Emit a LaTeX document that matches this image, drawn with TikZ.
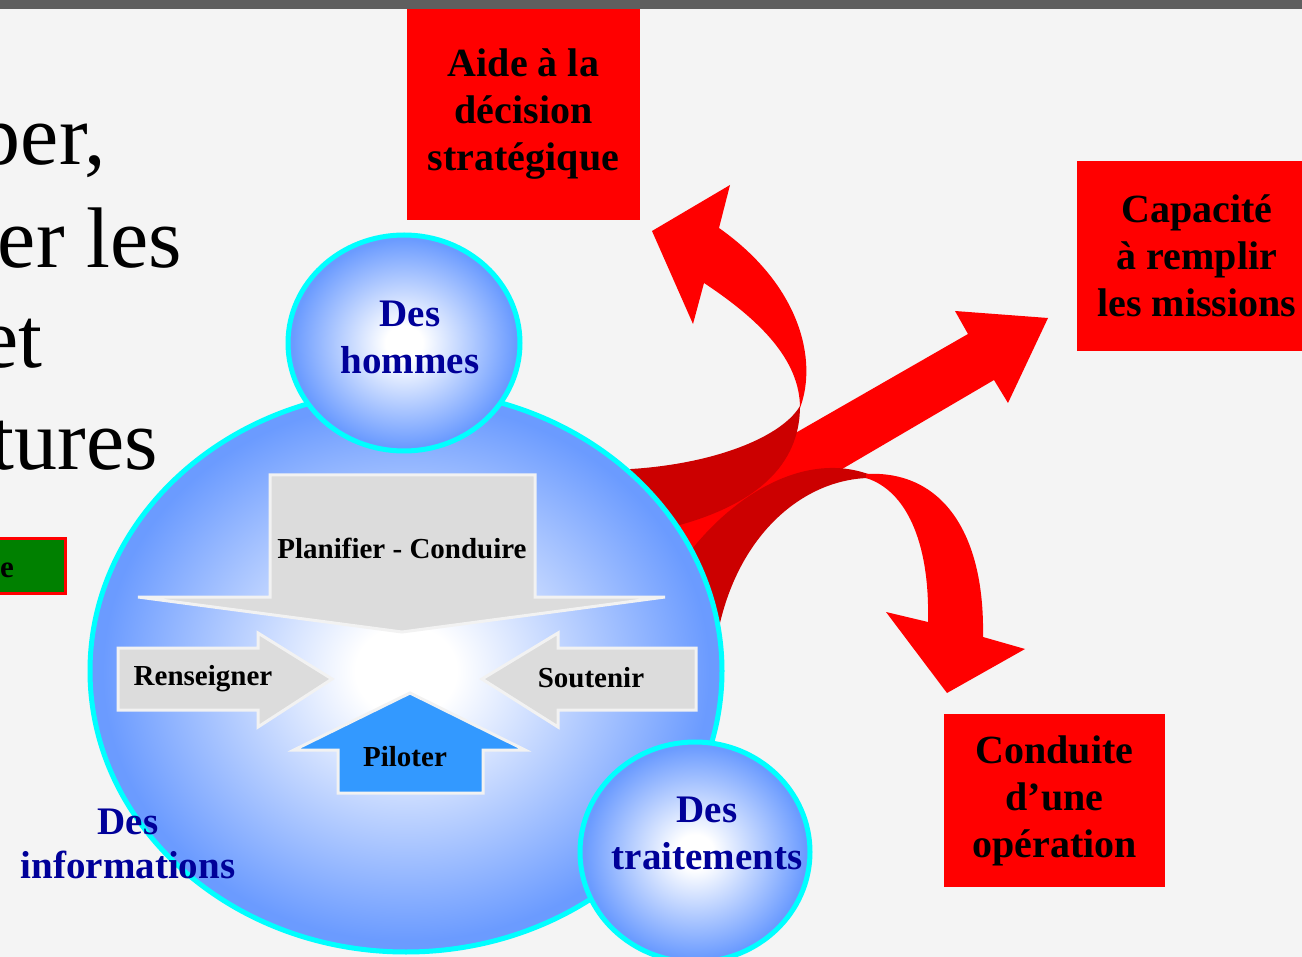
\documentclass[tikz,border=0pt]{standalone}
\usepackage{fontspec}
\setmainfont{Liberation Serif}
\usepackage{xcolor}
\usetikzlibrary{shapes.geometric,positioning}

\definecolor{fond}{HTML}{F4F4F4}
\definecolor{barre}{HTML}{5F5F5F}
\definecolor{contour}{HTML}{00FFFF}
\definecolor{bleuglobe}{HTML}{6B9BFF}
\definecolor{bleutexte}{HTML}{000099}
\definecolor{rouge}{HTML}{FF0000}
\definecolor{rougesombre}{HTML}{CC0000}
\definecolor{gris}{HTML}{DCDCDC}
\definecolor{bordgris}{HTML}{F2F2F2}
\definecolor{pilote}{HTML}{3399FF}
\definecolor{vert}{HTML}{008000}

\pgfdeclareradialshading{globe}{\pgfpoint{0bp}{0bp}}{color(0bp)=(white); color(4bp)=(white); color(24bp)=(bleuglobe); color(50bp)=(bleuglobe)}

\begin{document}
\begin{tikzpicture}[
	x=1pt, y=-1pt,
	bulle/.style = {ellipse, draw=contour, line width=5pt, shading=globe, inner sep=0pt},
	legende/.style = {text=bleutexte, align=center, inner sep=0pt,
	font=\fontsize{39}{47}\selectfont\bfseries},
	cadre/.style = {fill=rouge, align=center, inner sep=0pt,
	font=\fontsize{40}{47}\selectfont\bfseries},
	fleche/.style = {fill=gris, draw=bordgris, line width=3pt},
	verbe/.style = {inner sep=0pt, font=\fontsize{29}{34}\selectfont\bfseries},
	grand/.style = {inner sep=0pt, anchor=base east, font=\fontsize{86}{100}\selectfont}
]
\useasboundingbox (0,0) rectangle (1302,957);
\clip (0,0) rectangle (1302,957);
\fill[fond] (0,0) rectangle (1302,957);

\node[grand] (ligne1) at (106,165) {per,};
\node[grand] (ligne2) at (182,268) {er les};
\node[grand] (ligne3) at (43,368) {et};
\node[grand] (ligne4) at (158,470) {tures};

\filldraw[fill=vert, draw=rouge, line width=3pt] (-30,538) rectangle (65,593);
\node[verbe, anchor=base east, font=\fontsize{31}{34}\selectfont\bfseries] (etape) at (14,577) {re};

% fleches rouges
\fill[rouge] (670,505) -- (968,334) -- (955,311) -- (1048,318) -- (1008,403) -- (994,380) -- (680,564) -- cycle;
\fill[rougesombre] (600,470) .. controls (700,470) and (780,440) .. (800,406)
	.. controls (800,455) and (770,505) .. (660,530) -- (600,500) -- cycle;
\fill[rougesombre] (670,580) .. controls (720,500) and (800,450) .. (868,474)
	-- (868,478) .. controls (800,480) and (730,540) .. (715,650) -- (680,650) -- cycle;
\fill[rouge] (800,408) .. controls (818,360) and (800,285) .. (719,228) -- (730,185) -- (652,231)
	-- (693,324) -- (704,283) .. controls (760,320) and (800,360) .. (800,408) -- cycle;
\fill[rouge] (866,474) .. controls (940,470) and (985,530) .. (983,637) -- (1025,649) -- (947,693)
	-- (886,612) -- (928,622) .. controls (930,540) and (905,490) .. (866,478) -- cycle;

\node[bulle, minimum width=632, minimum height=562] (globe) at (406,671) {};
\node[bulle, minimum width=232, minimum height=216] (hommes) at (404,343) {};
\node[bulle, minimum width=230, minimum height=220] (traitements) at (695,852) {};

\filldraw[fleche] (270,475) -- (535,475) -- (535,597) -- (665,597) -- (402,632) -- (138,597) -- (270,597) -- cycle;
\filldraw[fleche] (118,648) -- (258,648) -- (258,633) -- (332,679) -- (258,727) -- (258,710) -- (118,710) -- cycle;
\filldraw[fleche] (696,648) -- (558,648) -- (558,633) -- (482,679) -- (558,727) -- (558,710) -- (696,710) -- cycle;
\filldraw[fleche, fill=pilote] (338,793) -- (338,750) -- (294,750) -- (410,693) -- (525,750) -- (483,750) -- (483,793) -- cycle;

\node[verbe] (planifier) at (402,548) {Planifier - Conduire};
\node[verbe] (renseigner) at (203,679) {Renseigner};
\node[verbe] (soutenir) at (591,678) {Soutenir};
\node[verbe] (piloter) at (405,757) {Piloter};

\node[legende] (hommes-t) at (410,337) {Des\\hommes};
\node[legende] (traitements-t) at (707,833) {Des\\traitements};
\node[legende, font=\fontsize{39}{44}\selectfont\bfseries] (informations) at (128,844) {Des\\informations};

\node[cadre, minimum width=233, minimum height=211] (aide) at (523.5,114.5) {Aide à la\\décision\\stratégique};
\node[cadre, minimum width=240, minimum height=190] (capacite) at (1197,256) {Capacité\\à remplir\\les missions};
\node[cadre, minimum width=221, minimum height=173] (conduite) at (1054.5,800.5) {Conduite\\d’une\\opération};

\fill[barre] (0,0) rectangle (1302,9);
\end{tikzpicture}
\end{document}
